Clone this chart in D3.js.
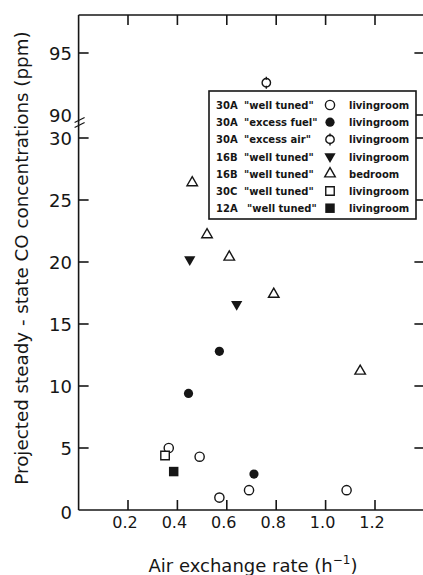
<!DOCTYPE html>
<html lang="en">
<head>
    <meta charset="UTF-8">
    <title>CO vs air exchange</title>
    <script src="https://cdn.jsdelivr.net/npm/d3@7"></script>
    <style>
        body { margin: 0; background: white; }
        svg { display: block; }
        text { font-family: "DejaVu Sans", sans-serif; fill: #161616; }
    </style>
</head>
<body>
    <svg id="chart" width="423" height="575"></svg>
    <script>
        // data: [air exchange rate, CO ppm]
        const wellTuned30A = [[0.365, 5.0], [0.49, 4.3], [0.57, 1.0], [0.69, 1.6], [1.085, 1.6]];
        const excessFuel30A = [[0.445, 9.4], [0.57, 12.8], [0.71, 2.9]];
        const excessAir30A = [[0.76, 92.6]];
        const living16B = [[0.45, 20.2], [0.64, 16.6]];
        const bedroom16B = [[0.46, 26.4], [0.52, 22.2], [0.61, 20.4], [0.79, 17.4], [1.14, 11.2]];
        const wellTuned30C = [[0.35, 4.4]];
        const wellTuned12A = [[0.385, 3.1]];

        const xTicks = [0.2, 0.4, 0.6, 0.8, 1.0, 1.2];
        const xTickLabels = ["0.2", "0.4", "0.6", "0.8", "1.0", "1.2"];
        const yLowTicks = [5, 10, 15, 20, 25, 30];
        const yHighTicks = [95];
        const yLabels = ["0", "5", "10", "15", "20", "25", "30", "90", "95"];

        const legendCodes = ["30A", "30A", "30A", "16B", "16B", "30C", "12A"];
        const legendTunes = ['"well tuned"', '"excess fuel"', '"excess air"', '"well tuned"', '"well tuned"', '"well tuned"', '"well tuned"'];
        const legendRooms = ["livingroom", "livingroom", "livingroom", "livingroom", "bedroom", "livingroom", "livingroom"];

        const svg = d3.select("#chart");
        const ink = "#161616";

        const x = d3.scaleLinear().domain([0, 1.4]).range([78.6, 424.4]);
        const yLow = d3.scaleLinear().domain([0, 30]).range([510, 138]);
        const yHigh = d3.scaleLinear().domain([90, 98]).range([115, 15.8]);
        const y = v => v >= 90 ? yHigh(v) : yLow(v);

        const pLeft = x(0), pRight = x(1.4), pTop = 15, pBottom = yLow(0);

        // frame
        let frame = svg.append("g").attr("stroke", ink).attr("stroke-width", 1.6).attr("fill", "none");
        frame.append("line").attr("x1", pLeft).attr("x2", pRight).attr("y1", pTop).attr("y2", pTop);
        frame.append("line").attr("x1", pLeft).attr("x2", pRight).attr("y1", pBottom).attr("y2", pBottom);
        frame.append("line").attr("x1", pLeft).attr("x2", pLeft).attr("y1", pTop).attr("y2", pBottom);
        frame.append("line").attr("x1", pRight).attr("x2", pRight).attr("y1", pTop).attr("y2", pBottom);

        // inward ticks
        const tl = 10;
        xTicks.forEach(t => {
            frame.append("line").attr("x1", x(t)).attr("x2", x(t)).attr("y1", pBottom).attr("y2", pBottom - tl);
            frame.append("line").attr("x1", x(t)).attr("x2", x(t)).attr("y1", pTop).attr("y2", pTop + tl);
        });
        let yTickPos = yLowTicks.map(yLow).concat(yHighTicks.map(yHigh));
        yTickPos.forEach(p => {
            frame.append("line").attr("x1", pLeft).attr("x2", pLeft + tl).attr("y1", p).attr("y2", p);
            frame.append("line").attr("x1", pRight).attr("x2", pRight - tl).attr("y1", p).attr("y2", p);
        });
        frame.append("line").attr("x1", pRight).attr("x2", pRight - tl).attr("y1", yHigh(90)).attr("y2", yHigh(90));

        // axis break between 90 and 30 (small slashes across the axis)
        [120, 125].forEach(b => {
            frame.append("line").attr("x1", pLeft - 4).attr("x2", pLeft + 6).attr("y1", b + 2.5).attr("y2", b - 2.5)
                .attr("stroke-width", 1.3);
        });

        // tick labels
        svg.append("g").selectAll("text").data(xTicks).enter().append("text")
            .attr("x", d => x(d) - 3).attr("y", 528)
            .attr("text-anchor", "middle").attr("font-size", 16)
            .text((d, i) => xTickLabels[i]);

        const yLabelPos = [pBottom + 2, yLow(5), yLow(10), yLow(15), yLow(20), yLow(25), yLow(30), yHigh(90), yHigh(95)];
        svg.append("g").selectAll("text").data(yLabels).enter().append("text")
            .attr("x", 72).attr("y", (d, i) => yLabelPos[i] + 6.5)
            .attr("text-anchor", "end").attr("font-size", 18)
            .text(d => d);

        // axis titles
        svg.append("text")
            .attr("transform", "translate(28," + 258 + ") rotate(-90)")
            .attr("text-anchor", "middle").attr("font-size", 18.3)
            .text("Projected steady - state CO concentrations (ppm)");

        let xt = svg.append("text").attr("x", 253).attr("y", 572)
            .attr("text-anchor", "middle").attr("font-size", 18);
        xt.append("tspan").text("Air exchange rate  (h");
        xt.append("tspan").attr("dy", -8).attr("font-size", 12).text("−1");
        xt.append("tspan").attr("dy", 8).text(")");

        // marker drawing
        function marker(g, kind) {
            if (kind === "openCircle") {
                g.append("circle").attr("r", 4.6).attr("fill", "white").attr("stroke", ink).attr("stroke-width", 1.4);
            } else if (kind === "filledCircle") {
                g.append("circle").attr("r", 4.6).attr("fill", ink);
            } else if (kind === "notchCircle") {
                g.append("circle").attr("r", 4.2).attr("fill", "white").attr("stroke", ink).attr("stroke-width", 1.4);
                g.append("path").attr("d", "M0,-6V-3M0,3V6").attr("stroke", ink).attr("stroke-width", 1.4);
            } else if (kind === "downTri") {
                g.append("path").attr("d", d3.symbol(d3.symbolTriangle, 55)()).attr("transform", "rotate(180)").attr("fill", ink);
            } else if (kind === "upTri") {
                g.append("path").attr("d", d3.symbol(d3.symbolTriangle, 48)()).attr("fill", "white").attr("stroke", ink).attr("stroke-width", 1.4);
            } else if (kind === "openSquare") {
                g.append("path").attr("d", d3.symbol(d3.symbolSquare, 72)()).attr("fill", "white").attr("stroke", ink).attr("stroke-width", 1.4);
            } else if (kind === "filledSquare") {
                g.append("path").attr("d", d3.symbol(d3.symbolSquare, 90)()).attr("fill", ink);
            }
        }

        const series = [
            { data: wellTuned30A, kind: "openCircle" },
            { data: excessFuel30A, kind: "filledCircle" },
            { data: excessAir30A, kind: "notchCircle" },
            { data: living16B, kind: "downTri" },
            { data: bedroom16B, kind: "upTri" },
            { data: wellTuned30C, kind: "openSquare" },
            { data: wellTuned12A, kind: "filledSquare" }
        ];

        // legend box
        const lg = svg.append("g");
        lg.append("rect").attr("x", 209).attr("y", 91).attr("width", 207).attr("height", 128)
            .attr("fill", "white").attr("stroke", ink).attr("stroke-width", 1.6);
        series.forEach((s, i) => {
            let ry = 105 + i * 17.2;
            lg.append("text").attr("x", 216).attr("y", ry + 4).attr("font-size", 10).attr("font-weight", "bold").text(legendCodes[i]);
            lg.append("text").attr("x", legendCodes[i] === "12A" ? 247 : 244).attr("y", ry + 4).attr("font-size", 10).attr("font-weight", "bold").text(legendTunes[i]);
            marker(lg.append("g").attr("transform", "translate(330," + ry + ")"), s.kind);
            lg.append("text").attr("x", 349).attr("y", ry + 4).attr("font-size", 10).attr("font-weight", "bold").text(legendRooms[i]);
        });

        // points
        series.forEach(s => {
            svg.append("g").selectAll("g").data(s.data).enter().append("g")
                .attr("transform", d => "translate(" + x(d[0]) + "," + y(d[1]) + ")")
                .each(function () { marker(d3.select(this), s.kind); });
        });
    </script>
</body>
</html>
